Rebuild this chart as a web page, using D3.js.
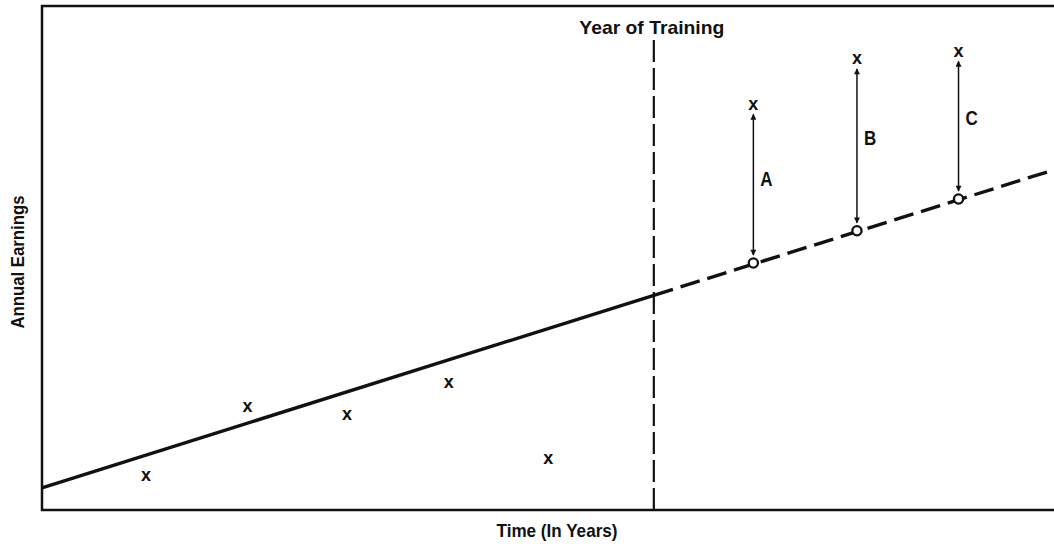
<!DOCTYPE html>
<html>
<head>
    <script src="https://d3js.org/d3.v7.min.js"></script>
    <style>
        body { margin: 0; background: #fff; }
        svg text {
            font-family: "Liberation Sans", Arial, sans-serif;
            font-weight: bold;
            fill: #111;
        }
        .frame { fill: none; stroke: #111; stroke-width: 2.5px; }
        .trend { fill: none; stroke: #111; stroke-width: 3.4px; }
        .trend--dash { stroke-dasharray: 20 8; }
        .training { stroke: #111; stroke-width: 2.2px; stroke-dasharray: 22 6; }
        .gap { stroke: #111; stroke-width: 1.5px; }
        .fitted { fill: #fff; stroke: #111; stroke-width: 2.3px; }
    </style>
</head>
<body>
    <svg width="1054" height="544"></svg>
    <script>
        // years and earnings (arbitrary units 0-100)
        var xExtent = [-0.024, 9.94],
            trainingYear = 6;

        var preYears = [1, 2, 2.98, 3.98, 4.96],
            preEarnings = [6.8, 20.5, 19.0, 25.2, 10.3];

        var postYears = [6.98, 8, 9],
            postEarnings = [80.5, 89.5, 91.0],
            fittedEarnings = [49.0, 55.4, 61.7],
            gapLabels = ["A", "B", "C"];

        var trendBefore = [[-0.024, 4.4], [6, 42.6]],
            trendAfter = [[6, 42.6], [9.94, 67.5]];

        (function() {
        var svg = d3.select("svg"),
            width = +svg.attr("width"),
            height = +svg.attr("height");

        var mLeft = 42, mTop = 6, mRight = width, mBottom = 510;

        var x = d3.scaleLinear().domain(xExtent).range([mLeft, mRight]);
        var y = d3.scaleLinear().domain([0, 100]).range([mBottom, mTop]);

        var defs = svg.append("defs");
        defs.append("marker")
            .attr("id", "head")
            .attr("viewBox", "0 0 10 10")
            .attr("refX", 9).attr("refY", 5)
            .attr("markerWidth", 11).attr("markerHeight", 6)
            .attr("markerUnits", "userSpaceOnUse")
            .attr("orient", "auto-start-reverse")
            .append("path")
            .attr("d", "M0,0L10,5L0,10Z")
            .attr("fill", "#111");

        var line = d3.line()
            .x(function(d) { return x(d[0]); })
            .y(function(d) { return y(d[1]); });

        // frame: left axis, top border, bottom axis
        svg.append("path")
            .attr("class", "frame")
            .attr("d", "M" + mRight + "," + mTop + "H" + mLeft + "V" + mBottom + "H" + mRight);

        svg.append("line")
            .attr("class", "training")
            .attr("x1", x(trainingYear)).attr("x2", x(trainingYear))
            .attr("y1", 40).attr("y2", mBottom);

        svg.append("text")
            .attr("x", x(trainingYear) - 2)
            .attr("y", 34)
            .attr("text-anchor", "middle")
            .attr("textLength", 145)
            .attr("lengthAdjust", "spacingAndGlyphs")
            .style("font-size", "19px")
            .text("Year of Training");

        svg.append("path").attr("class", "trend").attr("d", line(trendBefore));
        svg.append("path").attr("class", "trend trend--dash").attr("d", line(trendAfter));

        // observed earnings
        var obs = preYears.map(function(d, i) { return [d, preEarnings[i]]; })
            .concat(postYears.map(function(d, i) { return [d, postEarnings[i]]; }));

        svg.selectAll(".obs")
            .data(obs)
            .enter().append("text")
            .attr("class", "obs")
            .attr("x", function(d) { return x(d[0]); })
            .attr("y", function(d) { return y(d[1]) + 5.5; })
            .attr("text-anchor", "middle")
            .style("font-size", "18px")
            .text("x");

        // gaps between actual and predicted
        var gaps = postYears.map(function(d, i) {
            return { year: d, hi: postEarnings[i], lo: fittedEarnings[i], label: gapLabels[i] };
        });

        svg.selectAll(".gap")
            .data(gaps)
            .enter().append("line")
            .attr("class", "gap")
            .attr("x1", function(d) { return x(d.year); })
            .attr("x2", function(d) { return x(d.year); })
            .attr("y1", function(d) { return y(d.hi) + 10; })
            .attr("y2", function(d) { return y(d.lo) - 8; })
            .attr("marker-start", "url(#head)")
            .attr("marker-end", "url(#head)");

        svg.selectAll(".fitted")
            .data(gaps)
            .enter().append("circle")
            .attr("class", "fitted")
            .attr("cx", function(d) { return x(d.year); })
            .attr("cy", function(d) { return y(d.lo); })
            .attr("r", 4.6);

        svg.selectAll(".gapLabel")
            .data(gaps)
            .enter().append("text")
            .attr("class", "gapLabel")
            .attr("x", function(d) { return x(d.year) + 7; })
            .attr("y", function(d, i) { return [186, 145, 125][i]; })
            .attr("transform", function(d, i) {
                var tx = x(d.year) + 7;
                return "translate(" + tx + ",0) scale(0.85,1) translate(" + (-tx) + ",0)";
            })
            .style("font-size", "20px")
            .text(function(d) { return d.label; });

        svg.append("text")
            .attr("x", 557)
            .attr("y", 537)
            .attr("text-anchor", "middle")
            .attr("textLength", 121)
            .attr("lengthAdjust", "spacingAndGlyphs")
            .style("font-size", "19px")
            .text("Time (In Years)");

        svg.append("text")
            .attr("transform", "translate(24,262) rotate(-90)")
            .attr("text-anchor", "middle")
            .attr("textLength", 133)
            .attr("lengthAdjust", "spacingAndGlyphs")
            .style("font-size", "19px")
            .text("Annual Earnings");
        })();
    </script>
</body>
</html>
